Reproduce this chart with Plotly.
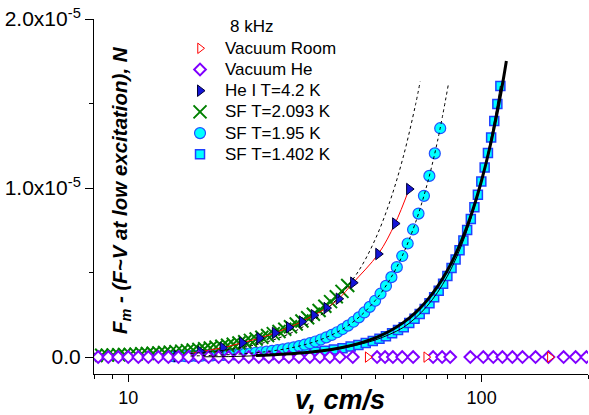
import math
import plotly.graph_objects as go

# ---------------- data (v in cm/s, F in units of 1e-5 N) ----------------
vac_room_v = [47.6, 69.7, 156.0]
vac_room_f = [0.0, 0.0, 0.0]

vac_he_v = [8.22, 8.78, 9.37, 10.0, 10.68, 11.4, 12.17, 12.99, 13.87, 14.81, 15.81,
            16.88, 18.02, 19.24, 20.54, 21.93, 23.41, 24.99, 26.68, 28.48, 30.41,
            32.65, 34.85, 37.2, 39.7, 43.2, 50.6, 53.3, 56.1, 59.6, 64.0, 72.9,
            77.3, 81.5, 92.9, 101.1, 107.9, 114.5, 122.2, 130.5, 142.1, 154.6,
            170.6, 184.5, 198.0]
vac_he_f = [0.0, 0.0, 0.0, 0.0, 0.0, 0.0, 0.0, 0.0, 0.0, 0.0, 0.0,
            0.0, 0.0, 0.0, 0.0, 0.0, 0.0, 0.0, 0.0, 0.0, 0.0,
            0.0, 0.0, 0.0, 0.0, 0.0, 0.0, 0.0, 0.0, 0.0, 0.0, 0.0,
            0.0, 0.0, 0.0, 0.0, 0.0, 0.0, 0.0, 0.0, 0.0, 0.0,
            0.0, 0.0, 0.0]

he1_v = [13.7, 16.0, 18.5, 21.0, 23.5, 26.0, 28.5, 31.0, 33.5, 36.4, 39.4, 43.3, 51.0, 56.9, 62.35]
he1_f = [0.006, 0.032, 0.055, 0.085, 0.112, 0.143, 0.176, 0.21, 0.248, 0.29, 0.345, 0.44, 0.61, 0.79, 0.994]

sf2093_v = [8.10, 8.41, 8.73, 9.06, 9.40, 9.76, 10.13, 10.52, 10.92, 11.33, 11.76, 12.21,
            12.67, 13.15, 13.65, 14.17, 14.71, 15.27, 15.85, 16.45, 17.07, 17.72, 18.40,
            19.10, 19.82, 20.57, 21.36, 22.17, 23.01, 23.88, 24.79, 25.73, 26.71, 27.73,
            28.78, 29.88, 31.01, 32.19, 33.41, 34.68, 36.00, 37.37, 38.79, 40.26, 41.79]
sf2093_f = [0.0097, 0.0106, 0.0116, 0.0126, 0.0137, 0.0149, 0.0163, 0.0177, 0.0194, 0.0210,
            0.0230, 0.0250, 0.0272, 0.0296, 0.0324, 0.0353, 0.0384, 0.0418, 0.0456, 0.0497,
            0.0541, 0.0589, 0.0643, 0.0700, 0.0762, 0.0831, 0.0906, 0.0987, 0.1075, 0.1170,
            0.1276, 0.1390, 0.1514, 0.1651, 0.1798, 0.1960, 0.2135, 0.2326, 0.2535, 0.276,
            0.3009, 0.328, 0.357, 0.389, 0.424]

sf195_v = [13.04, 13.51, 13.99, 14.50, 15.02, 15.56, 16.12, 16.70, 17.30, 17.92, 18.57,
           19.23, 19.93, 20.64, 21.39, 22.16, 22.95, 23.78, 24.64, 25.52, 26.44, 27.39,
           28.38, 29.40, 30.45, 31.55, 32.69, 33.86, 35.08, 36.34, 37.65, 39.00, 40.41,
           41.86, 43.37, 44.93, 46.55, 48.22, 49.96, 51.75, 53.62, 55.55, 57.54, 59.61,
           61.76, 63.98, 66.28, 68.67, 71.14, 73.70, 76.35]
sf195_f = [0.0040, 0.0045, 0.0050, 0.0056, 0.0063, 0.0071, 0.0080, 0.0090, 0.0101, 0.0113,
           0.0127, 0.0143, 0.0160, 0.0180, 0.0203, 0.0228, 0.0256, 0.0288, 0.0323, 0.0363,
           0.0408, 0.0459, 0.0516, 0.0579, 0.0651, 0.0732, 0.0822, 0.0924, 0.104, 0.117,
           0.131, 0.147, 0.166, 0.186, 0.209, 0.235, 0.264, 0.297, 0.333, 0.375, 0.421,
           0.473, 0.532, 0.598, 0.672, 0.755, 0.849, 0.954, 1.072, 1.205, 1.354]

sf1402_v = [25.0, 27.2, 29.4, 31.6, 33.8, 36.0, 38.2, 40.4, 42.6, 44.8, 47.0, 49.2, 51.4,
            53.6, 55.8, 58.0, 60.2, 62.4, 64.6, 66.8, 69.0, 71.2, 73.4, 75.6, 77.8, 80.0,
            82.2, 84.4, 86.6, 88.8, 91.0, 93.2, 95.4, 97.6, 99.8, 102.0, 104.2, 106.4,
            108.6, 110.8, 113.0]
sf1402_f = [0.012, 0.016, 0.021, 0.026, 0.032, 0.038, 0.045, 0.053, 0.062, 0.072, 0.083,
            0.095, 0.109, 0.124, 0.141, 0.160, 0.177, 0.201, 0.227, 0.255, 0.285, 0.319,
            0.354, 0.393, 0.434, 0.479, 0.527, 0.578, 0.632, 0.690, 0.752, 0.817, 0.887,
            0.960, 1.038, 1.121, 1.208, 1.299, 1.396, 1.497, 1.604]

# fitted / model curves
fit1402_v = [16.4, 20, 25, 30, 35, 40, 45, 50, 55, 60, 65, 70, 75, 80, 85, 90, 95, 100, 105, 110, 113]
fit1402_f = [0.0019, 0.0037, 0.012, 0.022, 0.034, 0.051, 0.074, 0.101, 0.135, 0.175, 0.2315,
             0.300, 0.382, 0.479, 0.592, 0.723, 0.874, 1.046, 1.241, 1.460, 1.604]

fit195_v = [15, 20, 25, 30, 35, 40, 45, 50, 55, 60, 65, 70, 75, 80.5]
fit195_f = [0.0063, 0.0163, 0.034, 0.0621, 0.1032, 0.1603, 0.2365, 0.335, 0.4587, 0.6115,
            0.796, 1.0166, 1.2765, 1.612]

fit2093_v = [15, 20, 25, 30, 35, 40, 45, 50, 55, 60, 65, 67]
fit2093_f = [0.0212, 0.049, 0.0934, 0.159, 0.248, 0.372, 0.514, 0.697, 0.920, 1.184, 1.493, 1.630]

model_v = [23, 25, 30, 35, 40, 45, 50, 55, 60, 65, 70, 75, 80, 85, 90, 95, 100, 105, 110, 115, 117.5]
model_f = [0.0095, 0.0124, 0.0222, 0.0363, 0.0557, 0.0813, 0.1137, 0.1544, 0.2039, 0.2635,
           0.3339, 0.4165, 0.512, 0.6218, 0.7465, 0.8874, 1.046, 1.222, 1.419, 1.635, 1.752]

x_tick_vals = [10, 100]
x_tick_text = ["10", "100"]
x_minor_vals = [8, 9, 20, 30, 40, 50, 60, 70, 80, 90, 200]
y_tick_vals = [0, 1, 2]
y_tick_text = ["0.0", "1.0x10<sup>-5</sup>", "2.0x10<sup>-5</sup>"]
y_minor_vals = [0.5, 1.5]

FONT = "Arial, 'Liberation Sans', sans-serif"


def lg(name):
    return '<span style="font-size:17px">' + name + '</span>'


fig = go.Figure()

# markers
fig.add_trace(go.Scatter(x=sf1402_v, y=sf1402_f, mode="markers", name=lg("SF T=1.402 K"), legendrank=6,
                         marker=dict(symbol="square", size=9, color="#00FFFF",
                                     line=dict(color="#2040FF", width=1.5))))
fig.add_trace(go.Scatter(x=sf195_v, y=sf195_f, mode="markers", name=lg("SF T=1.95 K"), legendrank=5,
                         marker=dict(symbol="circle", size=11, color="#00FFFF",
                                     line=dict(color="#2050FF", width=1.2))))
fig.add_trace(go.Scatter(x=sf2093_v, y=sf2093_f, mode="markers", name=lg("SF T=2.093 K"), legendrank=4,
                         marker=dict(symbol="x-thin-open", size=13, color="#008000",
                                     line=dict(color="#008000", width=2))))
fig.add_trace(go.Scatter(x=he1_v, y=he1_f, mode="lines", showlegend=False,
                         line=dict(color="#FF0000", width=1, shape="spline")))
fig.add_trace(go.Scatter(x=he1_v, y=he1_f, mode="markers", name=lg("He I T=4.2 K"), legendrank=3,
                         marker=dict(symbol="triangle-right", size=10, color="#1414D8",
                                     line=dict(color="#000033", width=1))))
fig.add_trace(go.Scatter(x=vac_he_v, y=vac_he_f, mode="markers", name=lg("Vacuum He"), legendrank=2,
                         marker=dict(symbol="diamond", size=9, color="white",
                                     line=dict(color="#8000FF", width=2))))
fig.add_trace(go.Scatter(x=vac_room_v, y=vac_room_f, mode="markers", name=lg("Vacuum Room"), legendrank=1,
                         marker=dict(symbol="triangle-right", size=9, color="white",
                                     line=dict(color="#FF0000", width=1))))

# lines
fig.add_trace(go.Scatter(x=fit1402_v, y=fit1402_f, mode="lines", showlegend=False,
                         line=dict(color="black", width=1, shape="spline")))
fig.add_trace(go.Scatter(x=fit195_v, y=fit195_f, mode="lines", showlegend=False,
                         line=dict(color="black", width=1, dash="dot", shape="spline")))
fig.add_trace(go.Scatter(x=fit2093_v, y=fit2093_f, mode="lines", showlegend=False,
                         line=dict(color="black", width=1, dash="3px,3px", shape="spline")))
fig.add_trace(go.Scatter(x=model_v, y=model_f, mode="lines", showlegend=False,
                         line=dict(color="black", width=3, shape="spline")))

fig.update_layout(
    width=589, height=415,
    margin=dict(l=94, r=1, t=19, b=41, autoexpand=False),
    paper_bgcolor="white", plot_bgcolor="white",
    font=dict(family=FONT, color="black", size=17),
    legend=dict(x=0.164, y=0.9614, xanchor="left", yanchor="top",
                bgcolor="rgba(0,0,0,0)", borderwidth=0, itemwidth=40,
                font=dict(family=FONT, size=14, color="black"), tracegroupgap=0),
    annotations=[
        dict(text="8 kHz", xref="paper", yref="paper", x=0.2713, y=0.9775,
             xanchor="left", yanchor="middle", showarrow=False,
             font=dict(family=FONT, size=17, color="black")),
        dict(text="<b><i>F<sub>m</sub> - (F~V at low excitation), N</i></b>",
             xref="paper", yref="paper", x=0.0546, y=0.518, textangle=-90,
             xanchor="center", yanchor="middle", showarrow=False,
             font=dict(family=FONT, size=20.5, color="black")),
        dict(text="<b><i>v, cm/s</i></b>", xref="paper", yref="paper", x=0.498, y=-0.0732,
             xanchor="center", yanchor="middle", showarrow=False,
             font=dict(family=FONT, size=27, color="black")),
    ],
)

fig.update_xaxes(type="log", range=[math.log10(8), math.log10(200)], automargin=False,
                 showline=True, linecolor="black", linewidth=1,
                 ticks="outside", ticklen=7, tickwidth=1, tickcolor="black",
                 tickmode="array", tickvals=x_tick_vals, ticktext=x_tick_text,
                 tickfont=dict(family=FONT, size=18),
                 minor=dict(ticks="outside", ticklen=4, tickwidth=1, tickcolor="black",
                            tickmode="array", tickvals=x_minor_vals, showgrid=False),
                 showgrid=False, zeroline=False)
fig.update_yaxes(range=[-0.1, 2.0], automargin=False,
                 showline=True, linecolor="black", linewidth=1,
                 ticks="outside", ticklen=8, tickwidth=1, tickcolor="black",
                 tickmode="array", tickvals=y_tick_vals, ticktext=y_tick_text,
                 tickfont=dict(family=FONT, size=21),
                 minor=dict(ticks="outside", ticklen=4, tickwidth=1, tickcolor="black",
                            tickmode="array", tickvals=y_minor_vals, showgrid=False),
                 showgrid=False, zeroline=False)

fig.write_html("out.html", config={"displayModeBar": False},
               post_script="document.body.style.margin='0px';document.body.style.padding='0px';")
